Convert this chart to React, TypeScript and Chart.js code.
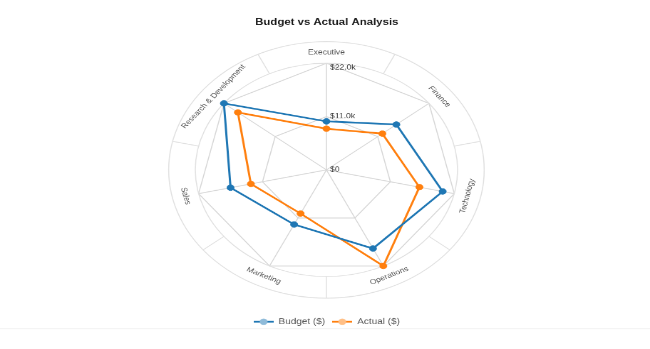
import React, { useEffect, useRef } from 'react';
import { Chart, registerables } from 'chart.js';

Chart.register(...registerables);

const categories = ['Executive', 'Finance', 'Technology', 'Operations', 'Marketing', 'Sales', 'Research & Development'];
const budgetValues = [10000, 15000, 20000, 18000, 12500, 16500, 22000];
const actualValues = [8500, 12000, 16000, 22000, 10000, 13000, 19000];
const seriesNames = ['Budget ($)', 'Actual ($)'];
const scaleMax = 22000;
const tickStep = 11000;

const BLUE = '#1f77b4';
const BLUE_LIGHT = '#8fbbd9';
const ORANGE = '#ff7f0e';
const ORANGE_LIGHT = '#ffbf86';
const GRID = '#d6d6d6';
const BAND = '#e0e0e0';
const FONT = "Arial, 'Liberation Sans', Helvetica, sans-serif";

const W = 912;
const H = 602;
const OUTER_RATIO = 1.203;

function fmt(v: number): string {
  return v === 0 ? '$0' : '$' + (v / 1000).toFixed(1) + 'k';
}

function legendIcon(color: string, light: string): HTMLCanvasElement {
  const c = document.createElement('canvas');
  c.width = 28;
  c.height = 12;
  const g = c.getContext('2d')!;
  g.strokeStyle = color;
  g.lineWidth = 3;
  g.beginPath();
  g.moveTo(0, 6);
  g.lineTo(28, 6);
  g.stroke();
  g.fillStyle = light;
  g.beginPath();
  g.arc(14, 6, 5.5, 0, Math.PI * 2);
  g.fill();
  return c;
}

const bandPlugin = {
  id: 'band',
  beforeDatasetsDraw(chart: any) {
    const scale = chart.scales.r;
    const ctx = chart.ctx as CanvasRenderingContext2D;
    const cx = scale.xCenter;
    const cy = scale.yCenter;
    const R = scale.drawingArea;
    const Rout = R * OUTER_RATIO;
    const labels = chart.data.labels as string[];
    const n = labels.length;
    ctx.save();
    ctx.strokeStyle = BAND;
    ctx.lineWidth = 1.5;
    ctx.beginPath();
    ctx.arc(cx, cy, R, 0, Math.PI * 2);
    ctx.stroke();
    ctx.beginPath();
    ctx.arc(cx, cy, Rout, 0, Math.PI * 2);
    ctx.stroke();
    for (let i = 0; i < n; i++) {
      const a = scale.getIndexAngle(i) + Math.PI / n - Math.PI / 2;
      ctx.beginPath();
      ctx.moveTo(cx + R * Math.cos(a), cy + R * Math.sin(a));
      ctx.lineTo(cx + Rout * Math.cos(a), cy + Rout * Math.sin(a));
      ctx.stroke();
    }
    ctx.fillStyle = '#555';
    ctx.font = `12px ${FONT}`;
    ctx.textAlign = 'center';
    ctx.textBaseline = 'middle';
    for (let i = 0; i < n; i++) {
      const p = scale.getPointPosition(i, (R + Rout) / 2);
      const ang = scale.getIndexAngle(i);
      const rot = ang > Math.PI / 2 && ang < (3 * Math.PI) / 2 ? ang - Math.PI : ang;
      ctx.save();
      ctx.translate(p.x, p.y);
      ctx.rotate(rot);
      ctx.fillText(labels[i], 0, 0);
      ctx.restore();
    }
    ctx.fillStyle = '#333';
    ctx.textAlign = 'left';
    const ticks = scale.ticks as { value: number }[];
    ticks.forEach((t, idx) => {
      const y = cy - scale.getDistanceFromCenterForValue(t.value);
      const off = idx === ticks.length - 1 ? 8 : 0;
      ctx.fillText(fmt(t.value), cx + 5, y + off);
    });
    ctx.restore();
  },
  afterDraw(chart: any) {
    const ctx = chart.ctx as CanvasRenderingContext2D;
    ctx.save();
    ctx.strokeStyle = '#f0f0f0';
    ctx.lineWidth = 1.5;
    ctx.beginPath();
    ctx.moveTo(0, 567);
    ctx.lineTo(W, 567);
    ctx.stroke();
    ctx.restore();
  },
};

export default function App() {
  const ref = useRef<HTMLCanvasElement>(null);
  useEffect(() => {
    if (!ref.current) return;
    Chart.defaults.font.family = FONT;
    const icons = [legendIcon(BLUE, BLUE_LIGHT), legendIcon(ORANGE, ORANGE_LIGHT)];
    const chart = new Chart(ref.current, {
      type: 'radar',
      data: {
        labels: categories,
        datasets: [
          {
            label: seriesNames[0],
            data: budgetValues,
            borderColor: BLUE,
            backgroundColor: BLUE,
            pointBackgroundColor: BLUE,
            pointBorderColor: BLUE,
            borderWidth: 3,
            pointRadius: 5,
            pointBorderWidth: 1,
            fill: false,
            tension: 0,
          },
          {
            label: seriesNames[1],
            data: actualValues,
            borderColor: ORANGE,
            backgroundColor: ORANGE,
            pointBackgroundColor: ORANGE,
            pointBorderColor: ORANGE,
            borderWidth: 3,
            pointRadius: 5,
            pointBorderWidth: 1,
            fill: false,
            tension: 0,
          },
        ],
      },
      options: {
        responsive: false,
        animation: false,
        devicePixelRatio: 1,
        layout: { padding: { left: 274, right: 269, top: 0, bottom: 30 } },
        scales: {
          r: {
            min: 0,
            max: scaleMax,
            ticks: { stepSize: tickStep, display: false },
            pointLabels: { display: false },
            grid: { circular: false, color: GRID, lineWidth: 1.5 },
            angleLines: { color: GRID, lineWidth: 1.5 },
          },
        },
        plugins: {
          title: {
            display: true,
            text: 'Budget vs Actual Analysis',
            color: '#1a1a1a',
            font: { size: 16, weight: 'bold', family: FONT },
            padding: { top: 29, bottom: 0 },
          },
          legend: {
            position: 'bottom',
            labels: {
              color: '#555',
              font: { size: 14, family: FONT },
              usePointStyle: true,
              pointStyleWidth: 28,
              padding: 10,
              generateLabels: (c: any) => {
                const base = (Chart.defaults.plugins.legend.labels as any).generateLabels(c);
                return base.map((l: any, i: number) => ({ ...l, pointStyle: icons[i] }));
              },
            },
          },
          tooltip: { enabled: false },
        },
      },
      plugins: [bandPlugin],
    } as any);
    return () => chart.destroy();
  }, []);
  return (
    <canvas
      ref={ref}
      width={W}
      height={H}
      style={{ position: 'absolute', left: 0, top: 0, width: '650px', height: '349px', display: 'block' }}
    />
  );
}
